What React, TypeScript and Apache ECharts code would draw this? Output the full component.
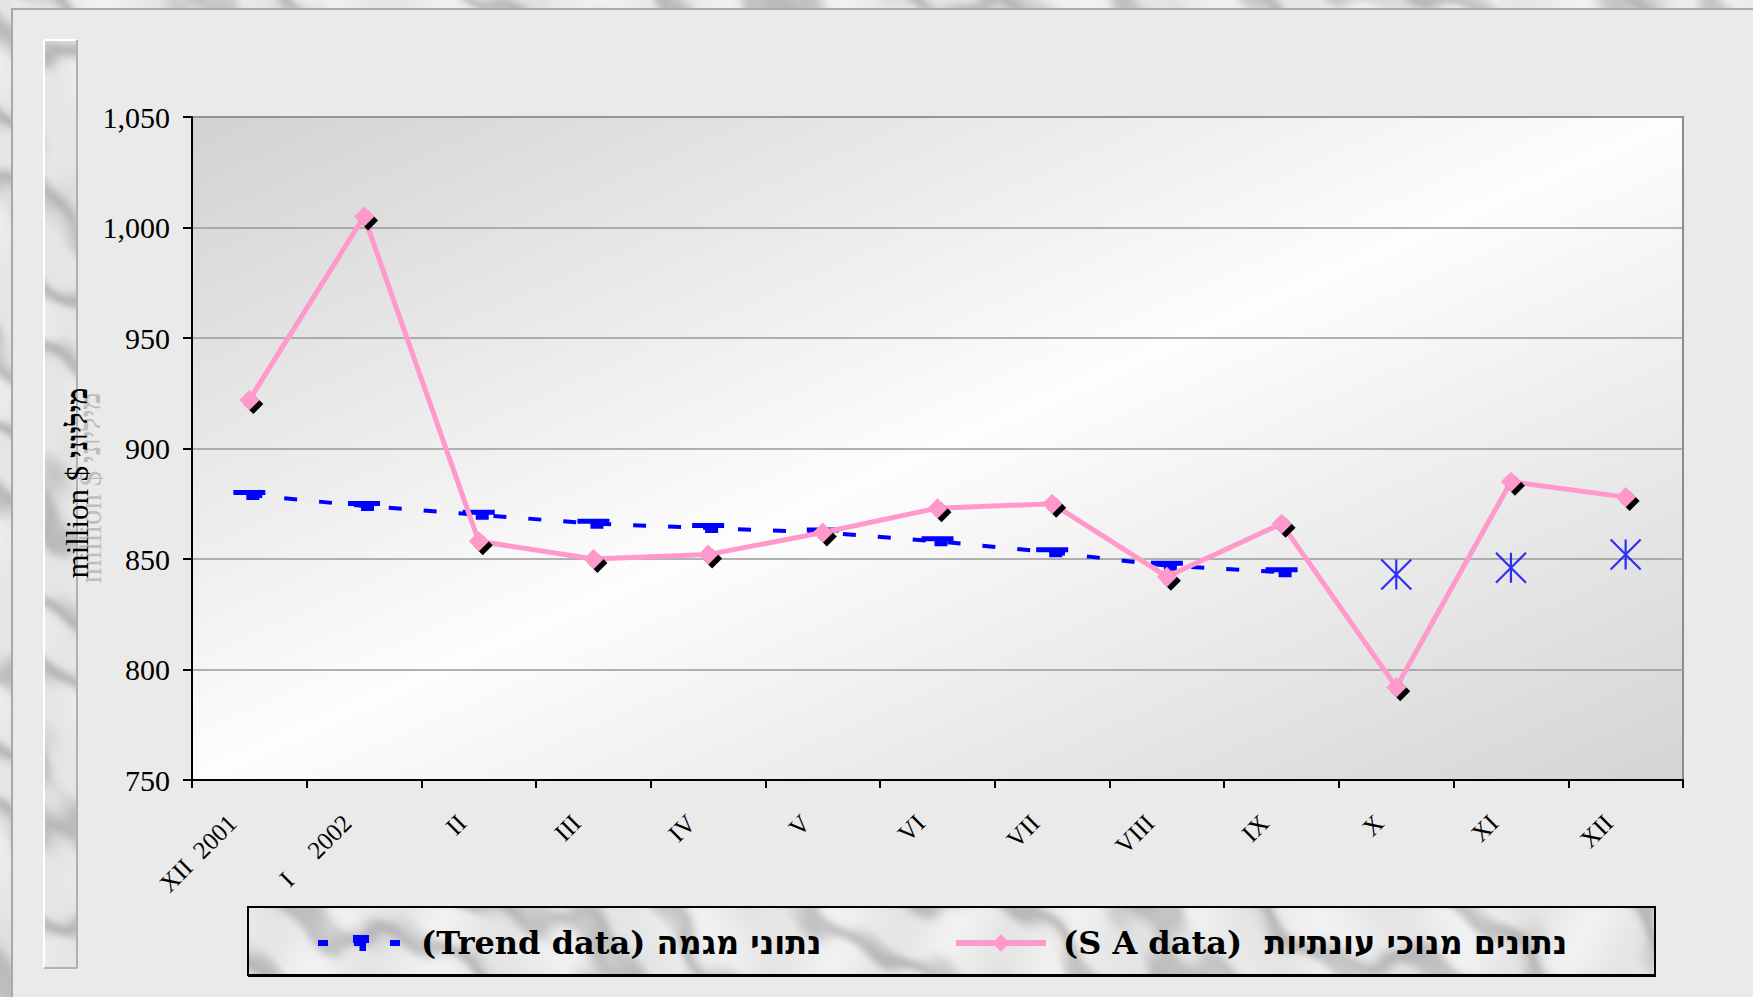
import React, { useEffect, useRef } from "react";
import * as echarts from "echarts";

const categories = ["XII  2001", "I     2002", "II", "III", "IV", "V", "VI", "VII", "VIII", "IX", "X", "XI", "XII"];
const saValues = [922, 1005, 858, 850, 852, 862, 873, 875, 842, 866, 792, 885, 878];
const trendValues = [879, 874, 870, 866, 864, 862, 858, 853, 847, 844, null, null, null];
const forecastValues = [null, null, null, null, null, null, null, null, null, null, 843, 846, 852];
const yTicks = { min: 750, max: 1050, interval: 50 };
const trendName = "(Trend data) נתוני מגמה";
const saName = "(S A data)  נתונים מנוכי עונתיות";

function marbleURL(w: number, h: number, seed: number): string {
  const c = document.createElement("canvas");
  c.width = w;
  c.height = h;
  const ctx = c.getContext("2d");
  if (!ctx) return "";
  const img = ctx.createImageData(w, h);
  const d = img.data;
  for (let y = 0; y < h; y++) {
    for (let x = 0; x < w; x++) {
      const X = x + seed * 131;
      const Y = y + seed * 71;
      const turb =
        1.6 * Math.sin(X * 0.013 + Y * 0.021) +
        1.0 * Math.sin(X * 0.031 - Y * 0.017 + 1.3) +
        0.5 * Math.sin(X * 0.066 + Y * 0.05 + 2.1) +
        0.25 * Math.sin(X * 0.14 - Y * 0.12);
      const t = X * 0.04 - Y * 0.06 + turb;
      const s = 0.5 + 0.5 * Math.sin(t);
      const streak = Math.pow(s, 4);
      const mottle = 0.5 + 0.5 * Math.sin(X * 0.05 + 0.8 * Math.sin(Y * 0.04 + X * 0.01));
      const g = 241 - streak * 44 - mottle * 12;
      const i = (y * w + x) * 4;
      d[i] = g;
      d[i + 1] = g;
      d[i + 2] = g;
      d[i + 3] = 255;
    }
  }
  ctx.putImageData(img, 0, 0);
  return c.toDataURL();
}

const legendText = {
  fontFamily: "DejaVu Serif, DejaVu Sans",
  fontWeight: "bold",
  fontSize: 32,
  color: "#000",
  padding: [0, 0, 0, 12],
};

export default function App() {
  const ref = useRef<HTMLDivElement>(null);
  useEffect(() => {
    if (!ref.current) return;
    const chart = echarts.init(ref.current, null, { renderer: "svg" });
    const topStrip = marbleURL(1753, 10, 1);
    const leftStrip = marbleURL(13, 997, 2);
    const bar = marbleURL(33, 928, 3);
    const legendBg = marbleURL(1407, 68, 4);

    const option: any = {
      animation: false,
      backgroundColor: "#eaeaea",
      grid: {
        left: 192,
        right: 70,
        top: 117,
        bottom: 217,
        show: true,
        backgroundColor: {
          type: "linear",
          x: 0,
          y: 0,
          x2: 1,
          y2: 1,
          colorStops: [
            { offset: 0, color: "#d2d2d2" },
            { offset: 0.5, color: "#fdfdfd" },
            { offset: 1, color: "#d4d4d4" },
          ],
        },
        borderColor: "#8c8c8c",
        borderWidth: 2,
      },
      xAxis: {
        type: "category",
        data: categories,
        boundaryGap: true,
        axisLine: { show: true, lineStyle: { color: "#000", width: 2 } },
        axisTick: { show: true, length: 8, interval: 0, lineStyle: { color: "#000", width: 2 } },
        axisLabel: {
          interval: 0,
          rotate: 45,
          margin: 22,
          padding: [0, 24, 0, 0],
          color: "#000",
          fontSize: 25,
          fontFamily: "Liberation Serif",
        },
        splitLine: { show: false },
      },
      yAxis: {
        type: "value",
        min: yTicks.min,
        max: yTicks.max,
        interval: yTicks.interval,
        axisLine: { show: true, lineStyle: { color: "#000", width: 2 } },
        axisTick: { show: true, length: 9, lineStyle: { color: "#000", width: 2 } },
        axisLabel: {
          margin: 22,
          color: "#000",
          fontSize: 30,
          fontFamily: "Liberation Serif",
          formatter: (v: number) => v.toLocaleString("en-US"),
        },
        splitLine: { show: true, lineStyle: { color: "#999999", width: 1.5 } },
      },
      legend: [
        {
          data: [
            {
              name: trendName,
              lineStyle: { width: 6, type: [10, 26], color: "#0000ff" },
            },
          ],
          left: 310,
          top: 922,
          z: 20,
          itemWidth: 86,
          itemHeight: 20,
          selectedMode: false,
          textStyle: legendText,
        },
        {
          data: [
            {
              name: saName,
              lineStyle: { width: 6, color: "#ff99cc" },
            },
          ],
          left: 948,
          top: 922,
          z: 20,
          itemWidth: 90,
          itemHeight: 22,
          selectedMode: false,
          textStyle: legendText,
        },
      ],
      series: [
        {
          name: trendName,
          type: "line",
          data: trendValues,
          z: 2,
          connectNulls: false,
          lineStyle: { color: "#0000ff", width: 4, type: [13, 22] },
          symbol: "path://M0 0H32V5H0Z M13 5H26V10H13Z",
          symbolSize: [32, 10],
          itemStyle: { color: "#0000ff" },
        },
        {
          name: saName,
          type: "line",
          data: saValues,
          z: 3,
          lineStyle: { color: "#ff99cc", width: 5 },
          symbol: "diamond",
          symbolSize: 20,
          itemStyle: {
            color: "#ff99cc",
            shadowColor: "#000",
            shadowOffsetX: 4,
            shadowOffsetY: 4,
            shadowBlur: 0,
          },
        },
        {
          name: "forecast",
          type: "scatter",
          data: forecastValues,
          z: 4,
          symbol: "path://M15 0L15 30M0 0L30 30M0 30L30 0",
          symbolSize: 30,
          itemStyle: { color: "rgba(0,0,0,0)", borderColor: "#0000ff", borderWidth: 2.2 },
        },
      ],
      graphic: [
        { type: "image", z: -20, style: { image: topStrip, x: 0, y: 0, width: 1753, height: 10 } },
        { type: "image", z: -20, style: { image: leftStrip, x: 0, y: 0, width: 13, height: 997 } },
        {
          type: "rect",
          z: -15,
          shape: { x: 12, y: 9, width: 1760, height: 1000 },
          style: { fill: "#eaeaea", stroke: "#a8a8a8", lineWidth: 2 },
        },
        { type: "image", z: -10, style: { image: bar, x: 44, y: 40, width: 33, height: 928 } },
        { type: "line", z: -9, shape: { x1: 44, y1: 40, x2: 44, y2: 968 }, style: { stroke: "#ffffff", lineWidth: 2 } },
        { type: "line", z: -9, shape: { x1: 44, y1: 40, x2: 77, y2: 40 }, style: { stroke: "#ffffff", lineWidth: 2 } },
        { type: "line", z: -9, shape: { x1: 77, y1: 40, x2: 77, y2: 968 }, style: { stroke: "#b0b0b0", lineWidth: 2 } },
        { type: "line", z: -9, shape: { x1: 44, y1: 968, x2: 77, y2: 968 }, style: { stroke: "#b0b0b0", lineWidth: 2 } },
        {
          type: "text",
          z: 5,
          x: 90,
          y: 488,
          rotation: Math.PI / 2,
          style: {
            text: "{a|million $ }{b|מיליוני}",
            x: 0,
            y: 0,
            align: "center",
            verticalAlign: "middle",
            rich: {
              a: { fontSize: 31, fontFamily: "Liberation Serif", fill: "#bdbdbd" },
              b: { fontSize: 29, fontFamily: "Liberation Serif", fontWeight: "bold", fill: "#bdbdbd" },
            },
          },
        },
        {
          type: "text",
          z: 6,
          x: 77,
          y: 483,
          rotation: Math.PI / 2,
          style: {
            text: "{a|million $ }{b|מיליוני}",
            x: 0,
            y: 0,
            align: "center",
            verticalAlign: "middle",
            rich: {
              a: { fontSize: 31, fontFamily: "Liberation Serif", fill: "#000" },
              b: { fontSize: 29, fontFamily: "Liberation Serif", fontWeight: "bold", fill: "#000" },
            },
          },
        },
        { type: "image", z: -5, style: { image: legendBg, x: 248, y: 907, width: 1407, height: 68 } },
        {
          type: "rect",
          z: -4,
          shape: { x: 248, y: 907, width: 1407, height: 68 },
          style: { fill: "none", stroke: "#000", lineWidth: 2 },
        },
        { type: "line", z: -4, shape: { x1: 248, y1: 976, x2: 1656, y2: 976 }, style: { stroke: "#000", lineWidth: 2 } },
      ],
    };
    chart.setOption(option);
    return () => chart.dispose();
  }, []);
  return (
    <div
      ref={ref}
      style={{ position: "fixed", left: 0, top: 0, width: 1753, height: 997, background: "#eaeaea" }}
    />
  );
}
